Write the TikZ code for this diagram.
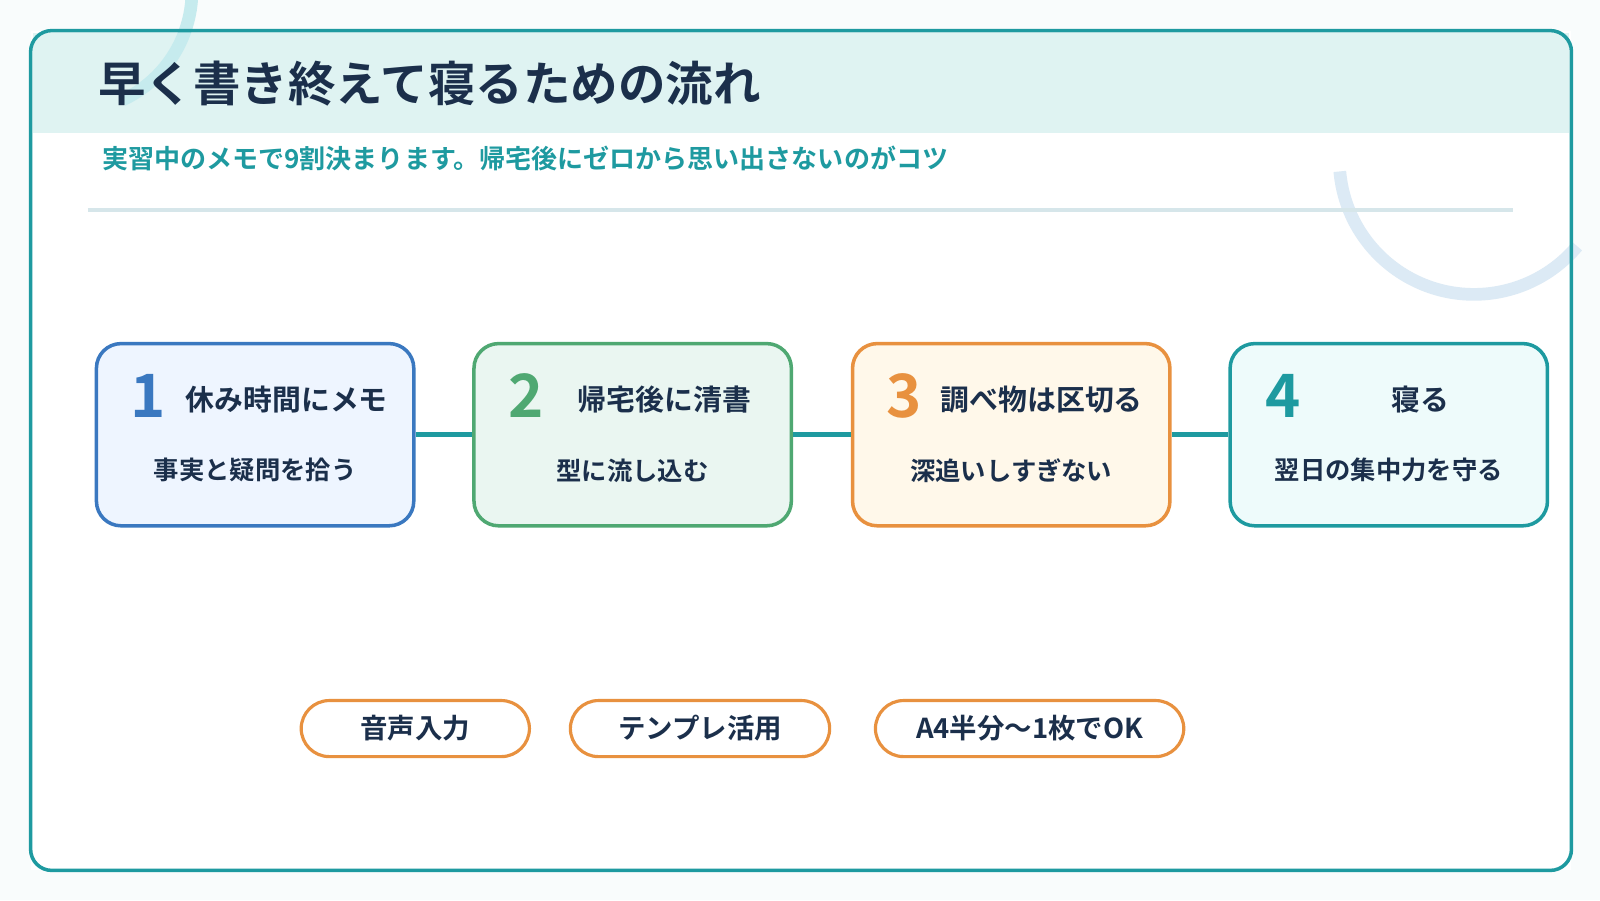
\documentclass[tikz,border=0pt]{standalone}
\usepackage{fontspec}
\setmainfont{Noto Sans CJK JP}[BoldFont={Noto Sans CJK JP Bold}]
\usetikzlibrary{positioning}
\definecolor{navy}{HTML}{1B2F4B}
\definecolor{flowteal}{HTML}{1E9AA0}
\definecolor{flowblue}{HTML}{3A78C0}
\definecolor{flowgreen}{HTML}{4FA872}
\definecolor{floworange}{HTML}{E8913F}
\definecolor{pagebg}{HTML}{F9FCFC}
\definecolor{headbg}{HTML}{DFF3F2}
\definecolor{arcleft}{HTML}{C6EBEE}
\definecolor{arcright}{HTML}{DCEAF5}
\definecolor{rulegray}{HTML}{D6E6EA}
\definecolor{fillblue}{HTML}{EEF5FF}
\definecolor{fillgreen}{HTML}{EAF6F1}
\definecolor{fillorange}{HTML}{FFF8EA}
\definecolor{fillteal}{HTML}{EEFBFB}
\tikzset{
  stepbox/.style={draw=#1, line width=1pt, rounded corners=7pt, minimum width=3.17cm, minimum height=1.82cm},
  stepnum/.style={font=\bfseries\fontsize{17}{17}\selectfont, text=#1},
  steptitle/.style={font=\bfseries\fontsize{8.2}{9}\selectfont, text=navy},
  stepdesc/.style={font=\bfseries\fontsize{7.2}{8}\selectfont, text=navy},
  pill/.style={draw=floworange, fill=white, line width=0.9pt, rounded corners=8pt, minimum height=0.56cm, font=\bfseries\fontsize{7.8}{8}\selectfont, text=navy},
  link/.style={flowteal, line width=1.5pt}
}
\begin{document}
\begin{tikzpicture}[x=0.0102cm, y=-0.0102cm]
  \useasboundingbox (0,0) rectangle (1568,882);
  \fill[pagebg] (0,0) rectangle (1568,882);
  % frame and header
  \fill[white] (30,30) rectangle (1540,853);
  \fill[headbg] (32,32) rectangle (1538,130);
  \draw[arcleft, line width=3.6pt] (120,98) arc[start angle=65, end angle=-62, radius=118];
  \draw[arcright, line width=3.6pt] (1313,168) arc[start angle=175, end angle=40, radius=132];
  \draw[flowteal, line width=1pt, rounded corners=6pt] (30,30) rectangle (1540,853);
  \node[anchor=west, font=\bfseries\fontsize{13.5}{14}\selectfont, text=navy] (title) at (84,82) {早く書き終えて寝るための流れ};
  \node[anchor=west, font=\bfseries\fontsize{7.4}{8}\selectfont, text=flowteal] (subtitle) at (88,155) {実習中のメモで9割決まります。帰宅後にゼロから思い出さないのがコツ};
  \draw[rulegray, line width=1pt] (86,206) -- (1483,206);
  % steps
  \node[stepbox=flowblue, fill=fillblue] (s1) at (250,426) {};
  \node[stepbox=flowgreen, fill=fillgreen] (s2) at (620,426) {};
  \node[stepbox=floworange, fill=fillorange] (s3) at (991,426) {};
  \node[stepbox=flowteal, fill=fillteal] (s4) at (1361,426) {};
  \draw[link] (s1) -- (s2);
  \draw[link] (s2) -- (s3);
  \draw[link] (s3) -- (s4);
  \node[stepnum=flowblue] (n1) at (145,388) {1};
  \node[stepnum=flowgreen] (n2) at (516,388) {2};
  \node[stepnum=floworange] (n3) at (886,388) {3};
  \node[stepnum=flowteal] (n4) at (1257,388) {4};
  \node[steptitle] (t1) at (281,392) {休み時間にメモ};
  \node[steptitle] (t2) at (651,392) {帰宅後に清書};
  \node[steptitle] (t3) at (1021,392) {調べ物は区切る};
  \node[steptitle] (t4) at (1392,392) {寝る};
  \node[stepdesc] (d1) at (250,461) {事実と疑問を拾う};
  \node[stepdesc] (d2) at (620,461) {型に流し込む};
  \node[stepdesc] (d3) at (991,461) {深追いしすぎない};
  \node[stepdesc] (d4) at (1361,461) {翌日の集中力を守る};
  % tips
  \node[pill, minimum width=2.28cm] (p1) at (407,714) {音声入力};
  \node[pill, minimum width=2.59cm] (p2) at (686,714) {テンプレ活用};
  \node[pill, minimum width=3.08cm] (p3) at (1009,714) {A4半分〜1枚でOK};
\end{tikzpicture}
\end{document}
